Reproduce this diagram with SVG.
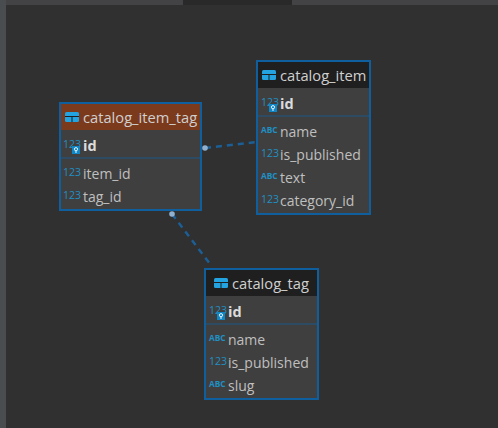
<svg xmlns="http://www.w3.org/2000/svg" width="498" height="428" viewBox="0 0 498 428">
<style>
.box{fill:#3f3f3f;stroke:#0f5f9e;stroke-width:2}
.hd{fill:#1f1f1f}
.sep{stroke:#1c5a8a;stroke-width:1}
text{font-family:"Open Sans","Noto Sans","Liberation Sans",sans-serif}
.t{font-size:14.7px;fill:#cfcfcf}
.c{font-size:14px;fill:#bfbfbf}
.b{font-size:14.5px;font-weight:700;fill:#dcdcdc}
.n{font-size:10.5px;fill:#1f8fc4}
.a{font-size:8.3px;font-weight:700;fill:#1f8fc4}
.conn{fill:none;stroke:#1b5f96;stroke-width:2.4;stroke-dasharray:6 5}
.dot{fill:#8fb0cf}
.k{fill:#0f86c6}
.kh{fill:none;stroke:#e8f4fb;stroke-width:1}
.ti{fill:#23a3e0}
.tl{stroke:#1f1f1f;stroke-width:1}
</style>
<defs>
<g id="tbl"><rect class="ti" x="0" y="0" width="14" height="10" rx="1.5"/><path class="tl" d="M0 4.5H14M7 4.5V10" fill="none"/></g>
<g id="key"><rect class="k" x="0" y="0" width="8" height="8"/><circle class="kh" cx="4" cy="3.2" r="1.6"/><path class="kh" d="M4 5V7"/></g>
</defs>
<rect width="498" height="428" fill="#303030"/>
<rect x="0" y="0" width="6" height="428" fill="#4a4d50"/>
<rect x="6" y="0" width="492" height="5" fill="#434345"/>
<rect x="183" y="0" width="109" height="5" fill="#292929"/>
<g id="connectors">
<path class="conn" d="M205 148L257 142"/>
<path class="conn" d="M172 214L210 264"/>
<circle class="dot" cx="205" cy="148" r="2.8"/>
<circle class="dot" cx="172" cy="214" r="2.8"/>
</g>
<g id="catalog_item_tag">
<rect class="box" x="60" y="103" width="141" height="107"/>
<rect x="61" y="104" width="139" height="26" fill="#7c3a1c"/>
<use href="#tbl" x="65" y="112"/>
<text class="t" x="83" y="123">catalog_item_tag</text>
<path class="sep" d="M61 158H200"/>
<text class="n" x="63" y="148">123</text><use href="#key" x="72" y="146"/>
<text class="b" x="83" y="151">id</text>
<text class="n" x="63" y="176">123</text><text class="c" x="83" y="179">item_id</text>
<text class="n" x="63" y="199">123</text><text class="c" x="83" y="202">tag_id</text>
</g>
<g id="catalog_item">
<rect class="box" x="257" y="61" width="113" height="153"/>
<rect class="hd" x="258" y="62" width="111" height="26"/>
<use href="#tbl" x="262" y="70"/>
<text class="t" x="280" y="81">catalog_item</text>
<path class="sep" d="M258 116H369"/>
<text class="n" x="261" y="106">123</text><use href="#key" x="269" y="104"/>
<text class="b" x="280" y="109">id</text>
<text class="a" x="261" y="133">ABC</text><text class="c" x="280" y="137">name</text>
<text class="n" x="261" y="157">123</text><text class="c" x="280" y="160">is_published</text>
<text class="a" x="261" y="179">ABC</text><text class="c" x="280" y="183">text</text>
<text class="n" x="261" y="203">123</text><text class="c" x="280" y="206">category_id</text>
</g>
<g id="catalog_tag">
<rect class="box" x="205" y="269" width="113" height="130"/>
<rect class="hd" x="206" y="270" width="111" height="26"/>
<use href="#tbl" x="214" y="278"/>
<text class="t" x="232" y="289">catalog_tag</text>
<path class="sep" d="M206 324H317"/>
<text class="n" x="209" y="314">123</text><use href="#key" x="217" y="312"/>
<text class="b" x="228" y="317">id</text>
<text class="a" x="209" y="341">ABC</text><text class="c" x="228" y="345">name</text>
<text class="n" x="209" y="365">123</text><text class="c" x="228" y="368">is_published</text>
<text class="a" x="209" y="387">ABC</text><text class="c" x="228" y="391">slug</text>
</g>
</svg>
